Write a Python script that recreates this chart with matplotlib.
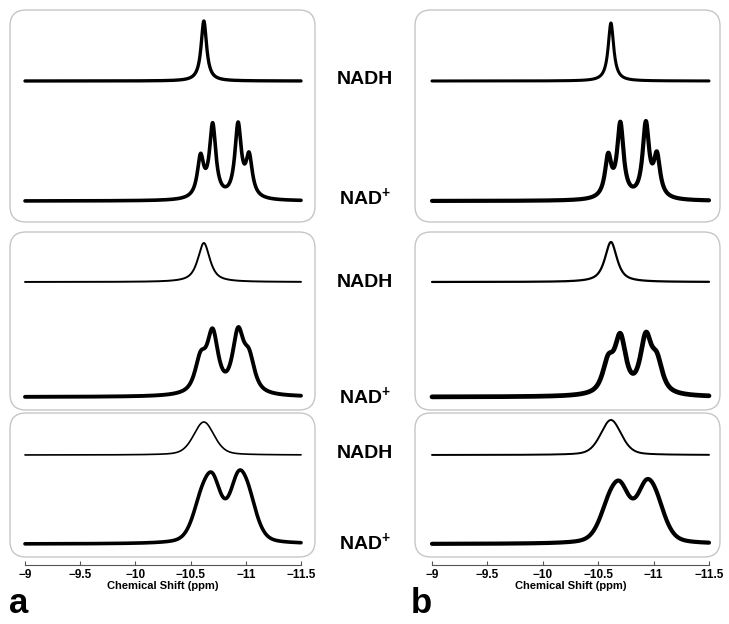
import numpy as np
import matplotlib
matplotlib.use('Agg')
import matplotlib.pyplot as plt
from matplotlib.patches import FancyBboxPatch
from matplotlib.transforms import IdentityTransform

plt.rcParams['font.family'] = ['Liberation Sans', 'DejaVu Sans']
plt.rcParams['mathtext.fontset'] = 'custom'
plt.rcParams['mathtext.rm'] = 'Liberation Sans'
plt.rcParams['mathtext.bf'] = 'Liberation Sans:bold'

# ---- values ----
# NADH singlet position (ppm) per column
nadh_center = {'a': -10.62, 'b': -10.615}
# NAD+ AB quartet line positions (ppm) and relative intensities
nad_centers = [-10.59, -10.70, -10.93, -11.03]
nad_rel_amp = [0.55, 1.0, 1.0, 0.55]

# half widths at half height (ppm), panels top -> bottom
nadh_hwhm = {'a': [0.03, 0.065, 0.11], 'b': [0.03, 0.065, 0.11]}
nad_hwhm = {'a': [0.035, 0.06, 0.095], 'b': [0.035, 0.06, 0.105]}
# lorentzian fraction of the line shape, panels top -> bottom
lor_frac = [1.0, 0.8, 0.35]

# peak heights (arb. units), panels top -> bottom
nadh_height = {'a': [60, 39, 33], 'b': [58, 40, 35]}
nad_height = {'a': [79, 70, 74], 'b': [80, 65, 65]}

xticks = [-9, -9.5, -10, -10.5, -11, -11.5]
xticklabels = ['\u22129', '\u22129.5', '\u221210', '\u221210.5', '\u221211', '\u221211.5']

# ---- layout (pixels) ----
W, H = 729, 624
col_x = {'a': (25, 301), 'b': (432, 709)}      # where -9 and -11.5 sit
box_pad = {'a': (15, 14), 'b': (17, 11)}
box_y = [(10, 222), (232, 410), (413, 557)]
base_y = [(81, 201), (282, 397), (455, 544)]    # NADH / NAD+ baselines
label_y = [(80, 198), (283, 397), (453, 543)]
nadh_lw = {'a': [2.4, 1.4, 1.2], 'b': [2.2, 1.6, 1.4]}
nad_lw = {'a': [2.6, 2.8, 2.6], 'b': [3.0, 3.4, 3.0]}
axis_y = 565


def line_shape(x, x0, g, eta):
    lor = 1.0 / (1.0 + ((x - x0) / g) ** 2)
    gau = np.exp(-np.log(2) * ((x - x0) / g) ** 2)
    return eta * lor + (1 - eta) * gau


ppm = np.linspace(-9, -11.5, 1200)

fig = plt.figure(figsize=(W / 100, H / 100), dpi=100)

for col in ['a', 'b']:
    x0, x1 = col_x[col]
    pl, pr = box_pad[col]
    for r in range(3):
        yt, yb = box_y[r]
        box = FancyBboxPatch((x0 - pl, H - yb), (x1 - x0) + pl + pr, yb - yt,
                             boxstyle='round,pad=0,rounding_size=16',
                             transform=IdentityTransform(), fc='none',
                             ec='#c6c6c6', lw=1.0)
        fig.add_artist(box)

        ax = fig.add_axes([x0 / W, 1 - yb / H, (x1 - x0) / W, (yb - yt) / H])
        ax.set_xlim(-9, -11.5)
        ax.set_ylim(0, yb - yt)
        ax.axis('off')

        s1 = line_shape(ppm, nadh_center[col], nadh_hwhm[col][r], lor_frac[r])
        s1 = s1 / s1.max() * nadh_height[col][r]
        s2 = sum(a * line_shape(ppm, c, nad_hwhm[col][r], lor_frac[r])
                 for c, a in zip(nad_centers, nad_rel_amp))
        s2 = s2 / s2.max() * nad_height[col][r]

        b1, b2 = base_y[r]
        ax.plot(ppm, (yb - b1) + s1, color='black', lw=nadh_lw[col][r],
                solid_capstyle='round', clip_on=False)
        ax.plot(ppm, (yb - b2) + s2, color='black', lw=nad_lw[col][r],
                solid_capstyle='round', clip_on=False)

    # x axis below the column
    axx = fig.add_axes([x0 / W, 1 - axis_y / H, (x1 - x0) / W, 0.0001])
    axx.set_xlim(-9, -11.5)
    axx.set_yticks([])
    for sp in ['left', 'right', 'top']:
        axx.spines[sp].set_visible(False)
    axx.spines['bottom'].set_color('#555555')
    axx.spines['bottom'].set_linewidth(0.8)
    axx.set_xticks(xticks)
    axx.set_xticklabels(xticklabels, fontweight='bold')
    axx.tick_params(axis='x', direction='in', length=3, width=0.8,
                    color='#555555', labelsize=8.5, pad=3)
    axx.set_xlabel('Chemical Shift (ppm)', fontsize=8, fontweight='bold', labelpad=0)

# compound labels between the columns
for r in range(3):
    fig.text(365 / W, 1 - label_y[r][0] / H, 'NADH', ha='center', va='center',
             fontsize=14, fontweight='bold')
    fig.text(365 / W, 1 - label_y[r][1] / H, r'NAD$^{\mathbf{+}}$', ha='center', va='center',
             fontsize=14, fontweight='bold')

fig.text(9 / W, 1 - 613 / H, 'a', fontsize=25, fontweight='bold', va='baseline')
fig.text(411 / W, 1 - 613 / H, 'b', fontsize=25, fontweight='bold', va='baseline')

fig.savefig('out.png', dpi=100)
